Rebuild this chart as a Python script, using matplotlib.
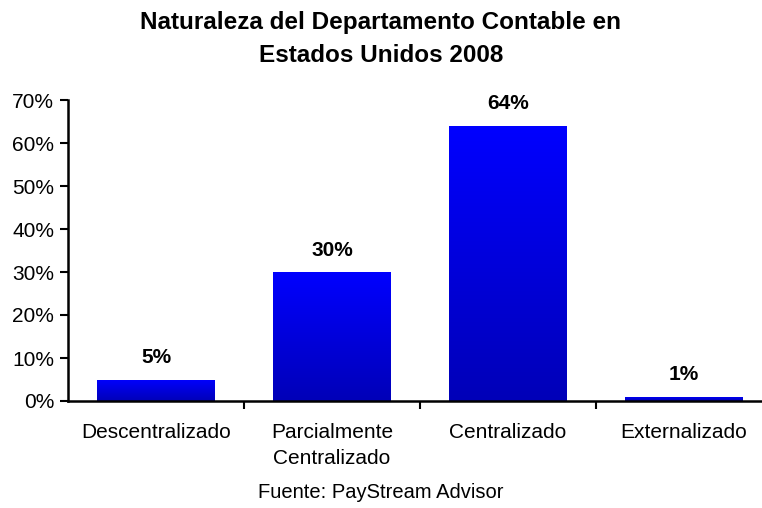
import matplotlib
matplotlib.use("Agg")
import matplotlib.pyplot as plt
import numpy as np
from matplotlib.colors import LinearSegmentedColormap
from matplotlib.ticker import MultipleLocator, FuncFormatter

plt.rcParams['font.family'] = ['Liberation Sans', 'DejaVu Sans']

categories = ["Descentralizado", "Parcialmente\nCentralizado", "Centralizado", "Externalizado"]
values = [5, 30, 64, 1]
labels = ["5%", "30%", "64%", "1%"]

fig = plt.figure(figsize=(7.62, 5.08), dpi=100)
ax = fig.add_axes([68 / 762, 107 / 508, 704 / 762, 301 / 508])

xs = np.arange(len(values))
bars = ax.bar(xs, values, width=0.667, facecolor='none', linewidth=0, zorder=2)

# vertical gradient inside each bar: bright blue on top, darker at the base
cmap = LinearSegmentedColormap.from_list("bluegrad", [(0, 0, 0.72), (0, 0, 1.0)])
grad = np.linspace(1, 0, 256).reshape(-1, 1)
for b in bars:
    x0, w, h = b.get_x(), b.get_width(), b.get_height()
    im = ax.imshow(grad, extent=[x0, x0 + w, 0, h], aspect='auto', cmap=cmap,
                   vmin=0, vmax=1, origin='upper', zorder=2)
    im.set_clip_path(b)

for x, v, t in zip(xs, values, labels):
    ax.annotate(t, (x, v), xytext=(0, 9), textcoords='offset points',
                ha='center', va='bottom', fontsize=15, fontweight='bold')

ax.set_xlim(-0.5, 3.5)
ax.set_ylim(0, 70)
ax.yaxis.set_major_locator(MultipleLocator(10))
ax.yaxis.set_major_formatter(FuncFormatter(lambda v, p: "%d%%" % v))

ax.set_xticks(xs + 0.5, minor=False)
ax.set_xticklabels([])
ax.set_xticks(xs, minor=True)
ax.set_xticklabels(categories, minor=True, fontsize=15, linespacing=1.45)
ax.tick_params(axis='x', which='minor', length=0, pad=16)
ax.tick_params(axis='x', which='major', length=6, width=1.5, direction='out')
ax.tick_params(axis='y', length=6, width=1.5, labelsize=15, pad=4)

for s in ['top', 'right']:
    ax.spines[s].set_visible(False)
ax.spines['left'].set_linewidth(1.8)
ax.spines['bottom'].set_linewidth(1.8)

fig.text(0.5, 1 - 39 / 508, "Naturaleza del Departamento Contable en\nEstados Unidos 2008",
         ha='center', va='center', fontsize=17.5, fontweight='bold', linespacing=1.6)
fig.text(0.5, 1 - 493 / 508, "Fuente: PayStream Advisor", ha='center', va='center', fontsize=14.5)

fig.savefig("out.png", dpi=100)
